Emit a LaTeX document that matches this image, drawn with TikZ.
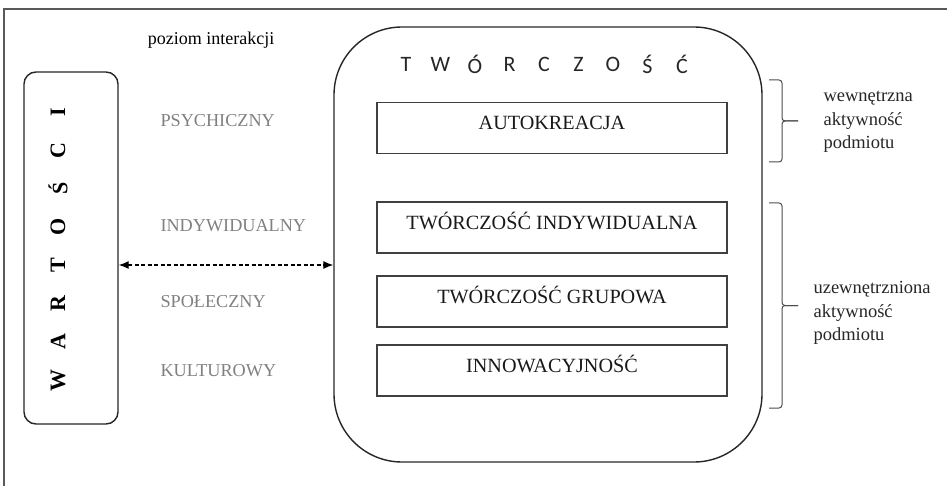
\documentclass[tikz,border=0pt]{standalone}
\usepackage{fontspec}
\setmainfont{Liberation Serif}
\newfontfamily\tytulfont{Carlito}
\usetikzlibrary{arrows.meta,positioning}

\tikzset{
	ramka/.style={draw=black!85, line width=1.4pt},
	pole/.style={draw=black!75, line width=1.3pt, minimum width=350pt, minimum height=51pt,
		text height=14pt, text depth=10pt, text=black!90, font=\fontsize{20.2}{23}\selectfont},
	poziom/.style={anchor=west, text=black!50, font=\fontsize{18.2}{21}\selectfont},
	litera/.style={inner sep=0pt},
	klamra/.style={draw=black!70, line width=1pt, rounded corners=3pt},
	opis/.style={anchor=west, align=left, text=black!85, font=\fontsize{18.5}{23.5}\selectfont}
}

\begin{document}
\begin{tikzpicture}[x=1pt, y=-1pt]
	\useasboundingbox (0,0) rectangle (947,486);
	\clip (0,0) rectangle (947,486);
	
	\draw[black!65, line width=1.3pt] (4,9) rectangle (970,510); % ramka wokol calosci
	
	\node (poziom) at (211,40) {\fontsize{18}{21}\selectfont poziom interakcji};
	
	% lewa kolumna - wartosci
	\node[ramka, rounded corners=12pt, minimum width=94pt, minimum height=352pt] (wart) at (71,248) {};
	\foreach \lit [count=\i] in {W,A,R,T,O,Ś,C,I}
		\node[litera, rotate=90, font=\fontsize{22}{24}\selectfont\bfseries] (w\i) at (58,380-38.3*\i+38.3) {\lit};
	
	\node[poziom] (psych) at (157,121) {PSYCHICZNY};
	\node[poziom] (indyw) at (157,226) {INDYWIDUALNY};
	\node[poziom] (spol)  at (157,302) {SPOŁECZNY};
	\node[poziom] (kult)  at (157,371) {KULTUROWY};
	
	% prawa kolumna - tworczosc
	\node[ramka, rounded corners=68pt, minimum width=428pt, minimum height=435pt] (tw) at (548,244.5) {};
	\foreach \lit [count=\i] in {T,W,Ó,R,C,Z,O,Ś,Ć}
		\node[litera, font=\tytulfont\fontsize{22}{24}\selectfont, text=black!85] (t\i) at (406+34.5*\i-34.5,64) {\lit};
	
	\node[pole] (auto)  at (552,128)   {AUTOKREACJA};
	\node[pole] (indtw) at (552,227.5) {TWÓRCZOŚĆ INDYWIDUALNA};
	\node[pole] (grup)  at (552,301.5) {TWÓRCZOŚĆ GRUPOWA};
	\node[pole] (innow) at (552,370.5) {INNOWACYJNOŚĆ};
	
	% strzalka miedzy kolumnami
	\draw[black, line width=1.2pt, dash pattern=on 4pt off 2.5pt, {Latex[length=10pt,width=8pt]}-{Latex[length=10pt,width=8pt]}]
		([yshift=-17pt]wart.east) -- ([yshift=-17pt]wart.east -| tw.west);
	
	% klamry
	\coordinate (k1g) at (769,80);
	\coordinate (k1d) at (769,162);
	\coordinate (k2g) at (769,203);
	\coordinate (k2d) at (769,408);
	\draw[klamra] (k1g) -- ++(13,0) -- ++(0,41) -- ++(16,0);
	\draw[klamra] (k1d) -- ++(13,0) -- ++(0,-41) -- ++(16,0);
	\draw[klamra] (k2g) -- ++(13,0) -- ++(0,102.5) -- ++(16,0);
	\draw[klamra] (k2d) -- ++(13,0) -- ++(0,-102.5) -- ++(16,0);
	
	\node[opis] (wew)  at (820,122) {wewnętrzna\\aktywność\\podmiotu};
	\node[opis] (uzew) at (810,313) {uzewnętrzniona\\aktywność\\podmiotu};
\end{tikzpicture}
\end{document}
